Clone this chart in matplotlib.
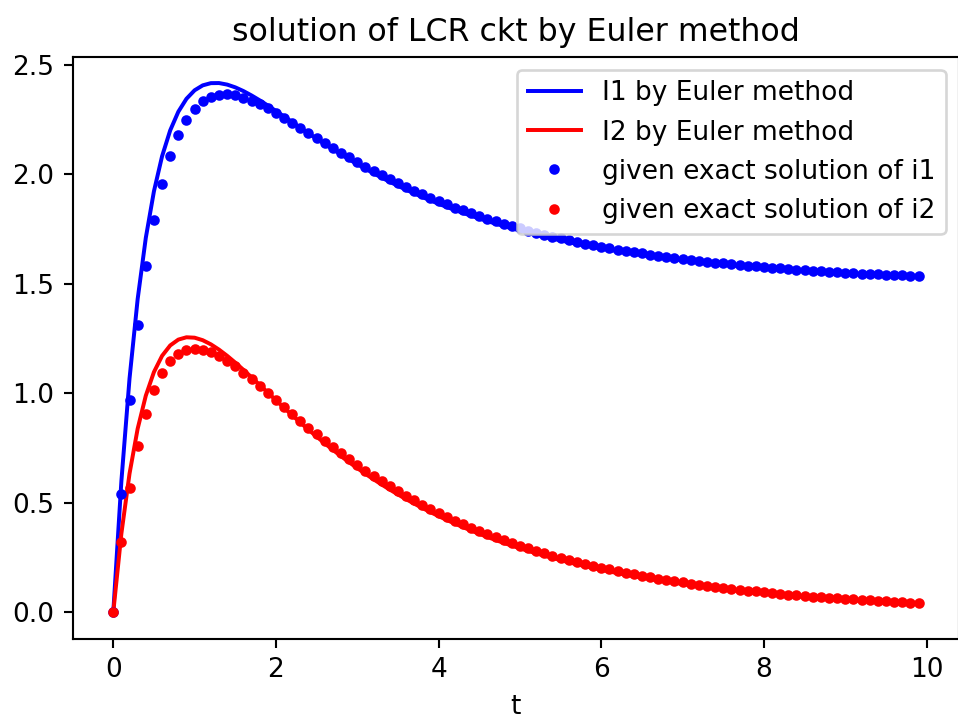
import numpy as np
import matplotlib
matplotlib.use('Agg')
import matplotlib.pyplot as plt

# time grid, step 0.1 from 0 to 9.9
t = np.arange(100) / 10

# Euler solution (line)
i1_euler = [
    0.0, 0.6, 1.068, 1.4309, 1.7101, 1.9229, 2.0829, 2.2012, 2.2864, 2.3455,
    2.3842, 2.4068, 2.4169, 2.4173, 2.4103, 2.3977, 2.3808, 2.3607, 2.3385, 2.3147,
    2.2898, 2.2645, 2.2389, 2.2133, 2.188, 2.163, 2.1385, 2.1146, 2.0913, 2.0687,
    2.0468, 2.0256, 2.0051, 1.9853, 1.9663, 1.9479, 1.9302, 1.9132, 1.8968, 1.881,
    1.8659, 1.8513, 1.8376, 1.8241, 1.8111, 1.7987, 1.7867, 1.7753, 1.7643, 1.7537,
    1.7435, 1.7338, 1.7244, 1.7155, 1.7068, 1.6986, 1.6906, 1.683, 1.6757, 1.6687,
    1.6619, 1.6554, 1.6492, 1.6432, 1.6375, 1.632, 1.6267, 1.6217, 1.6168, 1.6121,
    1.6076, 1.6033, 1.5992, 1.5952, 1.5914, 1.5878, 1.5843, 1.5809, 1.5777, 1.5745,
    1.5716, 1.5687, 1.566, 1.5633, 1.5608, 1.5584, 1.556, 1.5538, 1.5516, 1.5496,
    1.5476, 1.5457, 1.5438, 1.5421, 1.5404, 1.5388, 1.5372, 1.5358, 1.5343, 1.533,
]
i2_euler = [
    0.0, 0.36, 0.6336, 0.8387, 0.9894, 1.0973, 1.1714, 1.2189, 1.2456, 1.2562,
    1.2543, 1.2428, 1.224, 1.1998, 1.1716, 1.1405, 1.1076, 1.0734, 1.0386, 1.0035,
    0.9686, 0.934, 0.8999, 0.8666, 0.8341, 0.8024, 0.7717, 0.7419, 0.7131, 0.6853,
    0.6584, 0.6325, 0.6076, 0.5835, 0.5604, 0.5382, 0.5168, 0.4963, 0.4765, 0.4575,
    0.4393, 0.4218, 0.4051, 0.3889, 0.3734, 0.3584, 0.3441, 0.3303, 0.3171, 0.3044,
    0.2922, 0.2806, 0.2693, 0.2586, 0.2482, 0.2383, 0.2288, 0.2196, 0.2108, 0.2024,
    0.1943, 0.1865, 0.1791, 0.1719, 0.165, 0.1584, 0.1521, 0.146, 0.1402, 0.1346,
    0.1292, 0.124, 0.1191, 0.1143, 0.1097, 0.1053, 0.1011, 0.0971, 0.0932, 0.0895,
    0.0859, 0.0824, 0.0792, 0.076, 0.0729, 0.07, 0.0672, 0.0645, 0.062, 0.0595,
    0.0571, 0.0548, 0.0526, 0.0505, 0.0485, 0.0466, 0.0447, 0.0429, 0.0412, 0.0395,
]

# given exact solution (dots)
i1_exact = [
    0.0, 0.5383, 0.9685, 1.3108, 1.5813, 1.7935, 1.9584, 2.0848, 2.1801, 2.2503,
    2.3001, 2.3336, 2.354, 2.3641, 2.3658, 2.361, 2.3511, 2.3373, 2.3205, 2.3014,
    2.2807, 2.2588, 2.2363, 2.2133, 2.1901, 2.167, 2.1441, 2.1215, 2.0993, 2.0776,
    2.0564, 2.0357, 2.0157, 1.9963, 1.9775, 1.9593, 1.9417, 1.9248, 1.9084, 1.8926,
    1.8774, 1.8628, 1.8487, 1.8355, 1.8223, 1.8097, 1.7976, 1.7859, 1.7747, 1.764,
    1.7536, 1.7436, 1.7341, 1.7249, 1.7161, 1.7077, 1.6996, 1.6917, 1.6842, 1.677,
    1.67, 1.6633, 1.6569, 1.6509, 1.6449, 1.6392, 1.6338, 1.6286, 1.6235, 1.6187,
    1.614, 1.6096, 1.6052, 1.6011, 1.5972, 1.5933, 1.5897, 1.5862, 1.5828, 1.5795,
    1.5764, 1.5734, 1.5706, 1.5678, 1.5651, 1.5626, 1.5601, 1.5578, 1.5555, 1.5533,
    1.5512, 1.5492, 1.5473, 1.5454, 1.5437, 1.5419, 1.5403, 1.5387, 1.5372, 1.5357,
]
i2_exact = [
    0.0, 0.3196, 0.5688, 0.7607, 0.9063, 1.0144, 1.0922, 1.1457, 1.1796, 1.1979,
    1.2037, 1.1998, 1.1881, 1.1706, 1.1484, 1.1228, 1.0947, 1.0648, 1.0337, 1.0019,
    0.9698, 0.9376, 0.9056, 0.8741, 0.843, 0.8126, 0.7828, 0.7539, 0.7258, 0.6985,
    0.6721, 0.6465, 0.6219, 0.598, 0.575, 0.5528, 0.5314, 0.5108, 0.491, 0.4719,
    0.4535, 0.4358, 0.4193, 0.4029, 0.3871, 0.3719, 0.3573, 0.3433, 0.3299, 0.3169,
    0.3045, 0.2926, 0.2811, 0.2701, 0.2595, 0.2493, 0.2395, 0.2301, 0.2211, 0.2124,
    0.2041, 0.1961, 0.1884, 0.181, 0.1739, 0.1671, 0.1606, 0.1543, 0.1482, 0.1424,
    0.1368, 0.1315, 0.1263, 0.1213, 0.1166, 0.112, 0.1076, 0.1034, 0.0994, 0.0954,
    0.0917, 0.0881, 0.0847, 0.0813, 0.0782, 0.0751, 0.0721, 0.0693, 0.0666, 0.064,
    0.0615, 0.0591, 0.0567, 0.0545, 0.0524, 0.0503, 0.0484, 0.0465, 0.0446, 0.0429,
]


def main():
    # source looks like a small inline figure blown up, so render at a high dpi
    dpi = 190
    fig = plt.figure(figsize=(958 / dpi, 720 / dpi), dpi=dpi)
    # right spine falls just past the image edge in the reference
    ax = fig.add_axes([0.0762, 0.1128, 0.9246, 0.8086])

    ax.plot(t, i1_euler, 'b', label='I1 by Euler method')
    ax.plot(t, i2_euler, 'r', label='I2 by Euler method')
    ax.plot(t, i1_exact, 'b.', label='given exact solution of i1')
    ax.plot(t, i2_exact, 'r.', label='given exact solution of i2')

    ax.set_title('solution of LCR ckt by Euler method')
    ax.set_xlabel('t')
    ax.legend(loc='upper right')

    fig.savefig('out.png', dpi=dpi)


if __name__ == '__main__':
    main()
